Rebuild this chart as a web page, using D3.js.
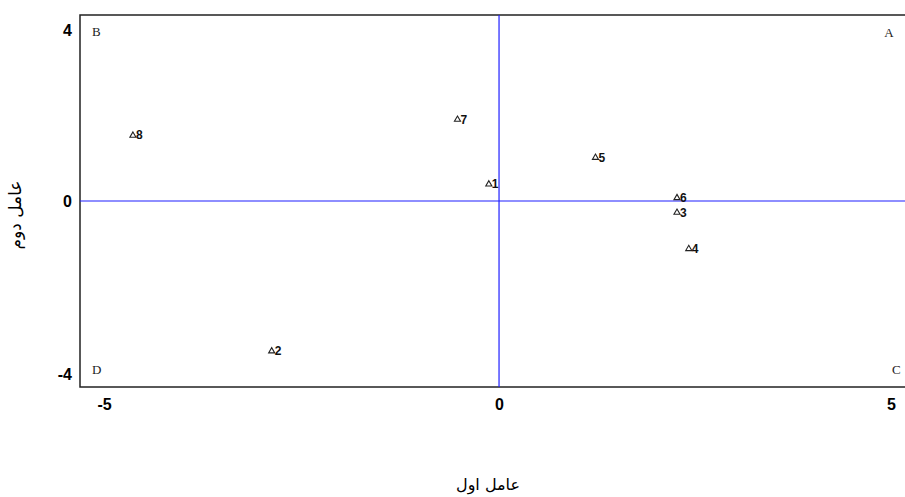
<!DOCTYPE html>
<html><head><meta charset="utf-8">
<script src="https://cdn.jsdelivr.net/npm/d3@7"></script>
<style>body{margin:0;background:#fff}svg{display:block}</style>
</head><body>
<svg id="c" width="905" height="497"></svg>
<script>
const pointLabels = ["1","2","3","4","5","6","7","8"];
const factor1 = [-0.13, -2.90, 2.27, 2.42, 1.23, 2.27, -0.53, -4.67];
const factor2 = [0.38, -3.39, -0.26, -1.08, 0.98, 0.07, 1.84, 1.48];
const xTicks = [-5, 0, 5];
const yTicks = [-4, 0, 4];
const quadrantLabels = ["A","B","C","D"];
const xTitle = "عامل اول";
const yTitle = "عامل دوم";

const svg = d3.select("#c");
const x = d3.scaleLinear().domain([-5.345, 5.2]).range([80, 906.7]);
const y = d3.scaleLinear().domain([-4.2, 4.2]).range([387, 15]);

// frame
svg.append("rect").attr("x", x(-5.345)).attr("y", y(4.2))
  .attr("width", x(5.2)-x(-5.345)).attr("height", y(-4.2)-y(4.2))
  .attr("fill","none").attr("stroke","#222").attr("stroke-width",1.5);

// zero lines
svg.append("line").attr("x1", x(0)).attr("x2", x(0)).attr("y1", y(4.2)).attr("y2", y(-4.2))
  .attr("stroke","#1f1fff").attr("stroke-width",1.2);
svg.append("line").attr("x1", x(-5.345)).attr("x2", x(5.2)).attr("y1", y(0)).attr("y2", y(0))
  .attr("stroke","#1f1fff").attr("stroke-width",1.2);

// axes
const fmt = d => String(d);
const xAxis = d3.axisBottom(x).tickValues(xTicks).tickSize(0).tickPadding(12).tickFormat(fmt);
const gx = svg.append("g").attr("transform", `translate(0,${y(-4.2)})`).call(xAxis);
gx.select(".domain").remove();
gx.selectAll("text").attr("font-family","Liberation Sans, Arial, sans-serif")
  .attr("font-size",16).attr("font-weight","bold").attr("fill","#000")
  .attr("dx", d => d < 0 ? -3 : 0);

const yAxis = d3.axisLeft(y).tickValues(yTicks).tickSize(0).tickPadding(8).tickFormat(fmt);
const gy = svg.append("g").attr("transform", `translate(${x(-5.345)},0)`).call(yAxis);
gy.select(".domain").remove();
gy.selectAll("text").attr("font-family","Liberation Sans, Arial, sans-serif")
  .attr("font-size",16).attr("font-weight","bold").attr("fill","#000")
  .attr("dy", d => d === 4 ? "0.72em" : d === -4 ? "0.1em" : "0.32em");

// quadrant labels
const qPos = {
  A: {xv: 5.2, yv: 4.2, dx: -13, dy: 22, anchor: "end"},
  B: {xv: -5.345, yv: 4.2, dx: 12, dy: 21, anchor: "start"},
  C: {xv: 5.2, yv: -4.2, dx: -6, dy: -13, anchor: "end"},
  D: {xv: -5.345, yv: -4.2, dx: 12, dy: -13, anchor: "start"}
};
svg.selectAll(".q").data(quadrantLabels).join("text")
  .attr("x", d => x(qPos[d].xv) + qPos[d].dx)
  .attr("y", d => y(qPos[d].yv) + qPos[d].dy)
  .attr("text-anchor", d => qPos[d].anchor)
  .attr("font-family","Liberation Serif, Times New Roman, serif")
  .attr("font-size",13).attr("fill","#222").text(d => d);

// points
const pts = pointLabels.map((l,i) => ({l, a: factor1[i], b: factor2[i]}));
const tri = d3.symbol().type(d3.symbolTriangle).size(16);
const g = svg.selectAll(".pt").data(pts).join("g")
  .attr("transform", d => `translate(${x(d.a)},${y(d.b)})`);
g.append("path").attr("d", tri).attr("fill","#fff").attr("stroke","#222").attr("stroke-width",1.1);
g.append("text").attr("x", 3).attr("y", 4)
  .attr("font-family","Liberation Sans, Arial, sans-serif")
  .attr("font-size",12).attr("font-weight","bold").attr("fill","#111").text(d => d.l);

// titles
svg.append("text").attr("x", 488).attr("y", 490).attr("text-anchor","middle")
  .attr("font-family","DejaVu Sans, sans-serif").attr("font-size",16).attr("fill","#000").text(xTitle);
svg.append("text").attr("transform","translate(21,215) rotate(-90)").attr("text-anchor","middle")
  .attr("font-family","DejaVu Sans, sans-serif").attr("font-size",17).attr("fill","#000").text(yTitle);
</script>
</body></html>
